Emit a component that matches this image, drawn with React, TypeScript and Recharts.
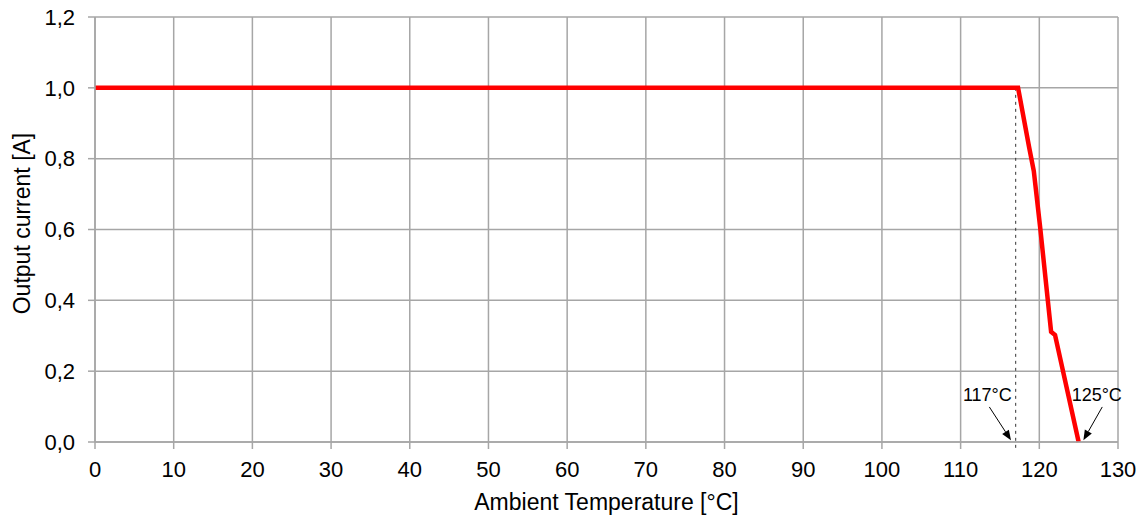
import React from 'react';
import {
  LineChart,
  Line,
  XAxis,
  YAxis,
  CartesianGrid,
  ReferenceLine,
  ReferenceDot,
  Label,
} from 'recharts';

// derating curve
const temps = [0, 117.3, 118.7, 119.3, 120.1, 121.5, 122.0, 125.0];
const currents = [1.0, 1.0, 0.833, 0.765, 0.608, 0.311, 0.302, 0.0];

const xTicks = [0, 10, 20, 30, 40, 50, 60, 70, 80, 90, 100, 110, 120, 130];
const yTicks = [0, 0.2, 0.4, 0.6, 0.8, 1.0, 1.2];

// annotations: text positions and arrow segments [from, to]
const notes = [
  { text: '117°C', x: 113.4, y: 0.132 },
  { text: '125°C', x: 127.3, y: 0.132 },
];
const arrows = [
  [{ x: 113.65, y: 0.099 }, { x: 116.4, y: 0.005 }],
  [{ x: 128.0, y: 0.099 }, { x: 125.6, y: 0.005 }],
];

const data = temps.map((t, i) => ({ t, a: currents[i] }));

const FONT = '"Liberation Sans", Arial, sans-serif';
const GRID = '#a6a6a6';

const Arrow = (props: any) => {
  const { x1, y1, x2, y2 } = props;
  const ang = Math.atan2(y2 - y1, x2 - x1);
  const len = 10;
  const w = 4;
  const bx = x2 - len * Math.cos(ang);
  const by = y2 - len * Math.sin(ang);
  const px = -Math.sin(ang) * w;
  const py = Math.cos(ang) * w;
  return (
    <g>
      <line x1={x1} y1={y1} x2={bx} y2={by} stroke="#000" strokeWidth={1} />
      <polygon
        points={`${x2},${y2} ${bx + px},${by + py} ${bx - px},${by - py}`}
        fill="#000"
      />
    </g>
  );
};

export default function App() {
  return (
    <div style={{ position: 'absolute', left: 0, top: 0, background: '#fff' }}>
      <LineChart
        width={1143}
        height={517}
        data={data}
        margin={{ top: 17, right: 25, bottom: 0, left: 0 }}
      >
        <CartesianGrid stroke={GRID} strokeWidth={1.5} />
        <XAxis
          dataKey="t"
          type="number"
          domain={[0, 130]}
          ticks={xTicks}
          interval={0}
          height={75}
          tickSize={7}
          tickMargin={12}
          stroke={GRID}
          strokeWidth={1.5}
          tick={{ fill: '#000', fontSize: 22, fontFamily: FONT }}
        >
          <Label
            content={({ viewBox }: any) => (
              <text
                x={viewBox.x + viewBox.width / 2}
                y={510}
                textAnchor="middle"
                fontSize={23}
                fontFamily={FONT}
                fill="#000"
              >
                Ambient Temperature [°C]
              </text>
            )}
          />
        </XAxis>
        <YAxis
          type="number"
          domain={[0, 1.2]}
          ticks={yTicks}
          interval={0}
          width={95}
          tickSize={7}
          tickMargin={13}
          stroke={GRID}
          strokeWidth={1.5}
          tickFormatter={(v: number) => v.toFixed(1).replace('.', ',')}
          tick={{ fill: '#000', fontSize: 22, fontFamily: FONT }}
        >
          <Label
            content={({ viewBox }: any) => {
              const cx = 22;
              const cy = viewBox.y + viewBox.height / 2 - 6;
              return (
                <text
                  x={cx}
                  y={cy}
                  transform={`rotate(-90 ${cx} ${cy})`}
                  textAnchor="middle"
                  dominantBaseline="central"
                  fontSize={23}
                  fontFamily={FONT}
                  fill="#000"
                >
                  Output current [A]
                </text>
              );
            }}
          />
        </YAxis>
        <ReferenceLine
          segment={[
            { x: 117, y: 1.0 },
            { x: 117, y: -0.018 },
          ]}
          stroke="#333"
          strokeWidth={1}
          strokeDasharray="3 4"
          ifOverflow="visible"
        />
        <Line
          type="linear"
          dataKey="a"
          stroke="#ff0000"
          strokeWidth={4.5}
          dot={false}
          activeDot={false}
          isAnimationActive={false}
        />
        {arrows.map((seg, i) => (
          <ReferenceLine
            key={'arr' + i}
            segment={seg}
            ifOverflow="visible"
            shape={(p: any) => <Arrow {...p} />}
          />
        ))}
        {notes.map((n) => (
          <ReferenceDot
            key={n.text}
            x={n.x}
            y={n.y}
            r={0}
            ifOverflow="visible"
            shape={(p: any) => (
              <text
                x={p.cx}
                y={p.cy}
                textAnchor="middle"
                dominantBaseline="central"
                fontSize={18}
                fontFamily={FONT}
                fill="#000"
              >
                {n.text}
              </text>
            )}
          />
        ))}
      </LineChart>
    </div>
  );
}
